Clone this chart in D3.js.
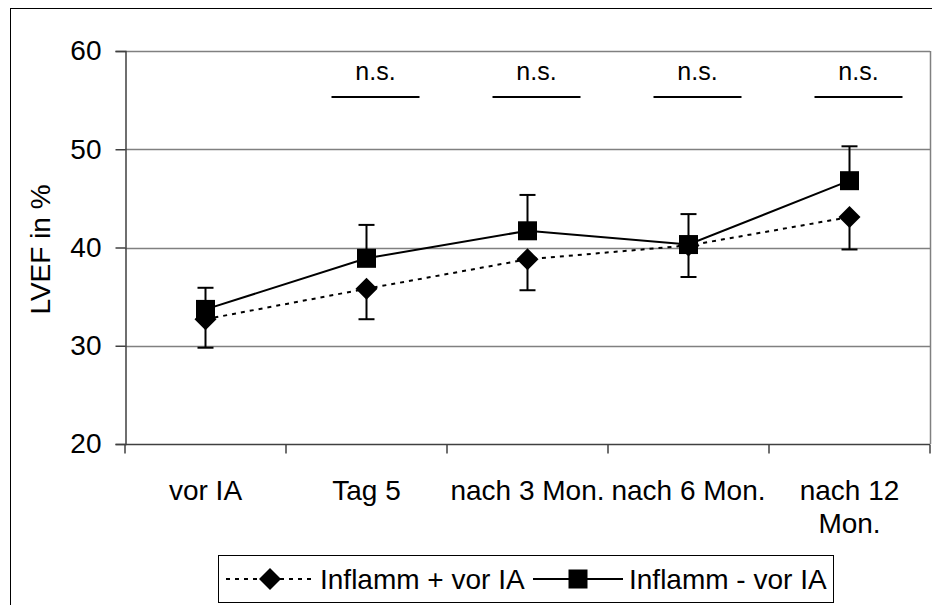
<!DOCTYPE html>
<html>
<head>
<meta charset="utf-8">
<script src="https://cdn.jsdelivr.net/npm/d3@7"></script>
<style>
  html, body { margin: 0; padding: 0; background: #fff; }
  svg { display: block; font-family: "Liberation Sans", Arial, sans-serif; }
</style>
</head>
<body>
<svg id="chart" width="932" height="605"></svg>
<script>
// Time points of the follow-up
const categories = ["vor IA", "Tag 5", "nach 3 Mon.", "nach 6 Mon.", "nach 12 Mon."];
// Mean LVEF (%) per group
const inflammPlus  = [32.7, 35.8, 38.8, 40.2, 43.1];
const inflammMinus = [33.7, 38.9, 41.7, 40.3, 46.8];
// One-sided error bars: downwards for Inflamm +, upwards for Inflamm -
const inflammPlusErr  = [2.9, 3.1, 3.15, 3.2, 3.3];
const inflammMinusErr = [2.2, 3.4, 3.65, 3.1, 3.5];
// Y axis ticks
const yTicks = [20, 30, 40, 50, 60];
// Significance labels between groups
const sigCategories = ["Tag 5", "nach 3 Mon.", "nach 6 Mon.", "nach 12 Mon."];
const sigLabels = ["n.s.", "n.s.", "n.s.", "n.s."];
const seriesNames = ["Inflamm + vor IA", "Inflamm - vor IA"];

const svg = d3.select("#chart");
const plotL = 125, plotR = 930, plotT = 51, plotB = 444;
const FS = 28;

// chart border (extends past the visible area on the right and bottom)
svg.append("rect").attr("x", 10.5).attr("y", 8.5).attr("width", 940).attr("height", 620)
  .attr("fill", "#fff").attr("stroke", "#000").attr("stroke-width", 1);

const x = d3.scaleBand().domain(categories).range([plotL, plotR]);
const y = d3.scaleLinear().domain([20, 60]).range([plotB, plotT]);
const cx = c => x(c) + x.bandwidth() / 2;

// gridlines
svg.append("g").selectAll("line").data(yTicks.filter(t => t > 20)).join("line")
  .attr("x1", plotL).attr("x2", plotR)
  .attr("y1", d => Math.round(y(d)) + 0.5).attr("y2", d => Math.round(y(d)) + 0.5)
  .attr("stroke", "#808080").attr("stroke-width", 1.5);
// right edge of the plot area
svg.append("line").attr("x1", plotR + 0.5).attr("x2", plotR + 0.5)
  .attr("y1", y(60)).attr("y2", y(20)).attr("stroke", "#808080").attr("stroke-width", 1.5);

// y axis
const yAxis = d3.axisLeft(y).tickValues(yTicks).tickSize(10).tickPadding(14);
const gy = svg.append("g").attr("transform", `translate(${plotL + 0.5},0)`).call(yAxis);
gy.select(".domain").attr("stroke", "#404040").attr("stroke-width", 1.5);
gy.selectAll(".tick line").attr("stroke", "#404040").attr("stroke-width", 1.5);
gy.selectAll(".tick text").attr("font-size", FS).attr("fill", "#000")
  .attr("font-family", "Liberation Sans, Arial, sans-serif");

// x axis: ticks sit between categories
const gx = svg.append("g").attr("transform", `translate(0,${plotB + 0.5})`);
gx.append("line").attr("x1", plotL).attr("x2", plotR).attr("stroke", "#404040").attr("stroke-width", 1.5);
const boundaries = categories.map(c => x(c)).concat([plotR]);
gx.selectAll("line.tk").data(boundaries).join("line").attr("class", "tk")
  .attr("x1", d => d).attr("x2", d => d).attr("y1", 0).attr("y2", 9)
  .attr("stroke", "#404040").attr("stroke-width", 1.5);

// category labels (wrapped when wider than the band)
const labelLines = c => c === "nach 12 Mon." ? ["nach 12", "Mon."] : [c];
categories.forEach(c => {
  const t = svg.append("text").attr("x", cx(c)).attr("y", plotB + 56)
    .attr("text-anchor", "middle").attr("font-size", FS).attr("fill", "#000");
  labelLines(c).forEach((ln, i) => t.append("tspan").attr("x", cx(c)).attr("dy", i ? 33 : 0).text(ln));
});

// y axis title
svg.append("text").attr("transform", `translate(50,${(plotT + plotB) / 2 + 2}) rotate(-90)`)
  .attr("text-anchor", "middle").attr("font-size", FS).attr("fill", "#000").text("LVEF in %");

// significance annotations
sigCategories.forEach((c, i) => {
  const mx = cx(c) + 9;
  svg.append("line").attr("x1", mx - 44).attr("x2", mx + 44).attr("y1", 97).attr("y2", 97)
    .attr("stroke", "#000").attr("stroke-width", 2);
  svg.append("text").attr("x", mx).attr("y", 80).attr("text-anchor", "middle")
    .attr("font-size", 25).attr("fill", "#000").text(sigLabels[i]);
});

// error bars
function errorBars(vals, errs, dir) {
  const g = svg.append("g").attr("stroke", "#000").attr("stroke-width", 2);
  categories.forEach((c, i) => {
    const y0 = y(vals[i]), y1 = y(vals[i] + dir * errs[i]);
    g.append("line").attr("x1", cx(c)).attr("x2", cx(c)).attr("y1", y0).attr("y2", y1);
    g.append("line").attr("x1", cx(c) - 8).attr("x2", cx(c) + 8).attr("y1", y1).attr("y2", y1);
  });
}
errorBars(inflammPlus, inflammPlusErr, -1);
errorBars(inflammMinus, inflammMinusErr, 1);

const line = d3.line().x((d, i) => cx(categories[i])).y(d => y(d));
// Inflamm + : dotted line with diamonds
svg.append("path").datum(inflammPlus).attr("d", line).attr("fill", "none")
  .attr("stroke", "#000").attr("stroke-width", 2).attr("stroke-dasharray", "4,5");
const diamond = s => `M0,${-s}L${s},0L0,${s}L${-s},0Z`;
svg.append("g").selectAll("path").data(inflammPlus).join("path")
  .attr("transform", (d, i) => `translate(${cx(categories[i])},${y(d)})`)
  .attr("d", diamond(11)).attr("fill", "#000");
// Inflamm - : solid line with squares
svg.append("path").datum(inflammMinus).attr("d", line).attr("fill", "none")
  .attr("stroke", "#000").attr("stroke-width", 2);
svg.append("g").selectAll("rect").data(inflammMinus).join("rect")
  .attr("x", (d, i) => cx(categories[i]) - 9.5).attr("y", d => y(d) - 9.5)
  .attr("width", 19).attr("height", 19).attr("fill", "#000");

// legend
const lg = svg.append("g");
lg.append("rect").attr("x", 218.5).attr("y", 555.5).attr("width", 615).attr("height", 47)
  .attr("fill", "#fff").attr("stroke", "#000").attr("stroke-width", 1);
const ly = 579;
lg.append("line").attr("x1", 226).attr("x2", 316).attr("y1", ly).attr("y2", ly)
  .attr("stroke", "#000").attr("stroke-width", 2).attr("stroke-dasharray", "4,5");
lg.append("path").attr("transform", `translate(270,${ly})`).attr("d", diamond(11)).attr("fill", "#000");
lg.append("text").attr("x", 320).attr("y", ly + 10).attr("font-size", FS).text(seriesNames[0]);
lg.append("line").attr("x1", 533).attr("x2", 623).attr("y1", ly).attr("y2", ly)
  .attr("stroke", "#000").attr("stroke-width", 2);
lg.append("rect").attr("x", 568.5).attr("y", ly - 9.5).attr("width", 19).attr("height", 19).attr("fill", "#000");
lg.append("text").attr("x", 629).attr("y", ly + 10).attr("font-size", FS).text(seriesNames[1]);
</script>
</body>
</html>
